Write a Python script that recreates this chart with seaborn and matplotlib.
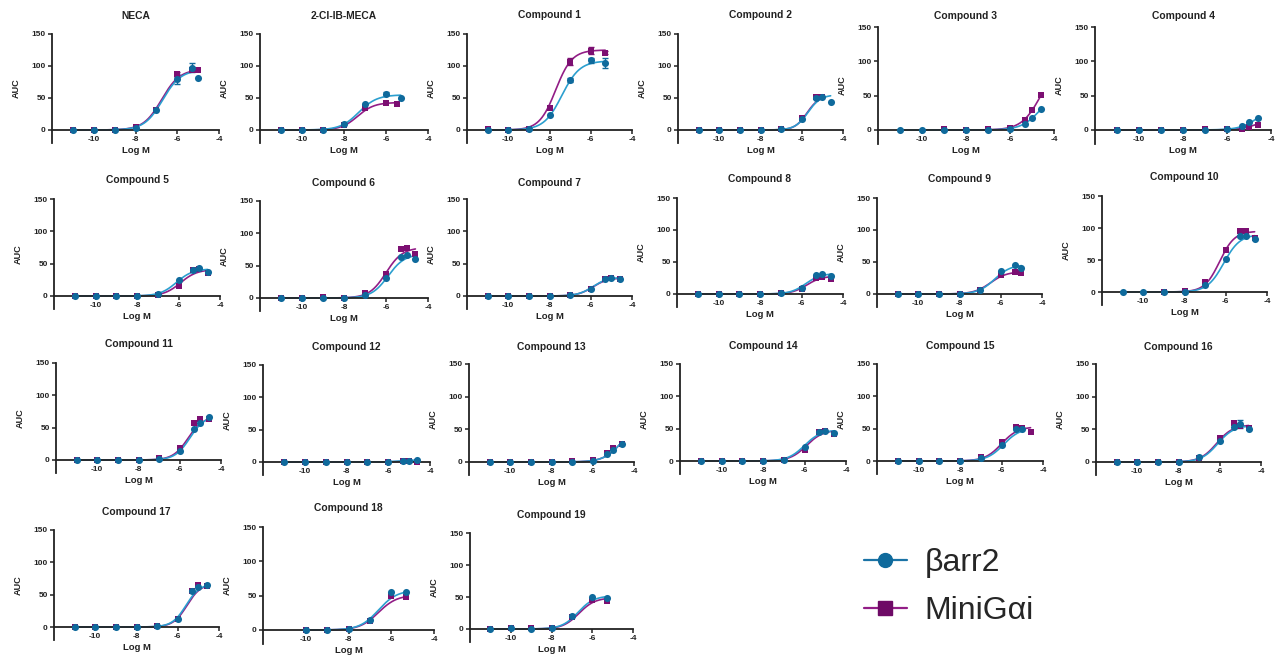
import numpy as np
import pandas as pd
import matplotlib
matplotlib.use("Agg")
import matplotlib.pyplot as plt
from matplotlib.lines import Line2D
import seaborn as sns

# ---------------------------------------------------------------- data
compounds = ["NECA", "2-Cl-IB-MECA"] + [f"Compound {i}" for i in range(1, 20)]

X9 = [-11, -10, -9, -8, -7, -6, -5.3, -5, -4.6]
X8 = [-11, -10, -9, -8, -7, -6, -5.3, -5]
X7 = [-11, -10, -9, -8, -7, -6, -5.3]
X_MECA = [-11, -10, -9, -8, -7, -6, -5.5, -5.3]
X18 = [-10, -9, -8, -7, -6, -5.3]

log_conc = [X8, X_MECA, X7, X9, X9, X9, X9, X9, X9, X9, X8,
            X9, X9, X9, X9, X9, X9, X9, X9, X18, X7]

nan = np.nan
barr_auc = [
    [0, 0, 0, 3, 31, 80, 97, 82],
    [0, 0, 0, 9, 40, 57, nan, 50],
    [0, 0, 2, 23, 78, 109, 105],
    [0, 0, 0, 0, 1, 17, 50, 51, 44],
    [0, 0, 0, 0, 0, 1, 9, 18, 30],
    [0, 0, 0, 0, 0, 1, 6, 11, 18],
    [0, 0, 0, 0, 3, 24, 40, 43, 37],
    [0, 0, 0, 0, 4, 31, 63, 67, 61],
    [0, 0, 0, 0, 1, 11, 27, 28, 27],
    [0, 0, 0, 0, 1, 10, 29, 31, 28],
    [0, 0, 0, 0, 7, 36, 46, 40],
    [0, 0, 0, 0, 11, 52, 87, 87, 83],
    [0, 0, 0, 0, 1, 14, 48, 57, 66],
    [0, 0, 0, 0, 0, 0, 2, 2, 3],
    [0, 0, 0, 0, 0, 2, 13, 19, 28],
    [0, 0, 0, 0, 2, 22, 45, 47, 44],
    [0, 0, 0, 0, 4, 24, 49, 50, nan],
    [0, 0, 0, 0, 7, 32, 53, 58, 50],
    [0, 0, 0, 0, 1, 12, 55, 62, 65],
    [0, 0, 2, 15, 55, 55],
    [0, 1, 0, 2, 20, 50, 48],
]
mini_auc = [
    [0, 0, 0, 4, 31, 87, 94, 94],
    [0, 0, 0, 8, 35, 42, 41, nan],
    [1, 0, 2, 35, 107, 124, 121],
    [0, 0, 0, 0, 1, 19, 51, 51, nan],
    [nan, nan, 1, 0, 1, 3, 15, 29, 51],
    [0, 0, 0, 0, 1, 1, 2, 5, 8],
    [0, 0, 0, 0, 2, 16, 40, 41, 35],
    [0, 0, 1, 0, 7, 37, 75, 77, 68],
    [0, 0, 0, 0, 1, 11, 26, 28, 26],
    [0, 0, 0, 0, 1, 8, 25, 27, 24],
    [0, 0, 0, 0, 6, 30, 35, 33],
    [nan, nan, 0, 1, 15, 65, 95, 95, 85],
    [0, 0, 0, 0, 3, 18, 57, 64, 63],
    [0, 0, 0, 0, 0, 0, 1, 2, 0],
    [0, 0, 0, 0, 1, 3, 14, 21, 28],
    [0, 0, 0, 0, 1, 17, 45, 46, 41],
    [0, 0, 0, 0, 6, 29, 52, 51, 45],
    [0, 0, 0, 0, 6, 36, 59, 55, 52],
    [0, 0, 0, 0, 1, 13, 55, 65, 63],
    [0, 0, 1, 13, 50, 48],
    [0, 1, 2, 2, 18, 45, 44],
]

# standard errors (only where visible): {compound: {logM: sem}}
barr_sem = {"NECA": {-6: 8, -5.3: 7}, "Compound 1": {-7: 3, -6: 4, -5.3: 8},
            "Compound 16": {-5: 6}, "2-Cl-IB-MECA": {-6: 3}}
mini_sem = {"NECA": {-6: 4}, "Compound 1": {-7: 5, -6: 6, -5.3: 3}}

# four-parameter logistic fits: top, logEC50, Hill slope
barr_top = [94, 55, 108, 55, 60, 40, 42, 68, 29, 32, 46, 90, 69, 3, 60, 48, 51, 56, 67, 58, 52]
barr_logec50 = [-6.7, -7.3, -7.4, -5.7, -4.6, -4.5, -6.1, -5.9, -5.9, -5.8, -6.3, -6.1,
                -5.5, -5.5, -4.6, -6.0, -5.9, -6.1, -5.6, -6.6, -6.7]
barr_hill = [1, 1, 1, 1.4, 1, 1, 1.1, 1.1, 1.2, 1.2, 1.1, 1.1, 1.2, 1.5, 1, 1.1, 1.1, 1.1, 1.3, 1, 1.1]
mini_top = [95, 43, 125, 53, 100, 20, 41, 78, 28, 28, 35, 95, 67, 1.5, 60, 48, 53, 57, 67, 51, 49]
mini_logec50 = [-6.75, -7.35, -7.7, -5.75, -4.6, -4.5, -5.9, -6.0, -5.9, -5.75, -6.5, -6.3,
                -5.6, -5.5, -4.6, -5.9, -6.0, -6.15, -5.55, -6.6, -6.65]
mini_hill = [1, 1.1, 1.1, 1.5, 1, 1, 1.1, 1.1, 1.2, 1.2, 1.1, 1.2, 1.2, 1.5, 1, 1.1, 1.1, 1.1, 1.3, 1, 1.1]

series_names = ["βarr2", "MiniGαi"]

# ---------------------------------------------------------------- layout (pixels)
# left edge (x=-12), y of 150, y of 0, right edge (x=-4), title centre y
panel_px = [
    (52, 34, 130, 219, 16), (260, 34, 130, 428, 16), (467, 34, 130, 632, 15),
    (678, 34, 130, 843, 15), (878, 27, 130, 1054, 16), (1095, 27, 130, 1271, 16),
    (54, 199, 296, 220, 180), (260, 201, 298, 428, 183), (467, 199, 296, 632, 183),
    (677, 198, 294, 843, 179), (877, 198, 294, 1042, 179), (1102, 196, 292, 1267, 177),
    (56, 363, 460, 221, 344), (263, 365, 462, 430, 347), (469, 364, 462, 634, 347),
    (680, 364, 461, 846, 346), (877, 364, 461, 1043, 346), (1096, 364, 462, 1261, 347),
    (54, 530, 627, 219, 512), (263, 527, 630, 434, 508), (470, 533, 629, 633, 515),
]

W, H = 1285, 660
BARR_MARK, BARR_LINE = "#0f6a9c", "#2b9fcf"
MINI_MARK, MINI_LINE = "#7c0f72", "#921d86"
INK = "#222222"

sns.set_theme(style="ticks")
plt.rcParams["font.family"] = ["Liberation Sans", "DejaVu Sans"]
plt.rcParams["font.weight"] = "bold"

fig = plt.figure(figsize=(W / 100, H / 100), dpi=100)


def logistic(x, top, logec50, hill):
    return top / (1 + 10 ** ((logec50 - x) * hill))


for i, name in enumerate(compounds):
    left, ytop, yzero, right, ytitle = panel_px[i]
    pix_per_unit = (yzero - ytop) / 150.0
    ybot = yzero + 20 * pix_per_unit
    ax = fig.add_axes([left / W, 1 - ybot / H, (right - left) / W, (ybot - ytop) / H])

    x = np.array(log_conc[i], dtype=float)
    pts = pd.DataFrame({
        "logM": np.concatenate([x, x]),
        "AUC": np.concatenate([np.array(barr_auc[i], float), np.array(mini_auc[i], float)]),
        "series": [series_names[0]] * len(x) + [series_names[1]] * len(x),
    }).dropna()

    curves = []
    for s, top, ec, hl in [(series_names[1], mini_top[i], mini_logec50[i], mini_hill[i]),
                           (series_names[0], barr_top[i], barr_logec50[i], barr_hill[i])]:
        sub = pts[pts.series == s]
        xs = np.linspace(sub.logM.min(), sub.logM.max(), 200)
        curves.append(pd.DataFrame({"logM": xs, "AUC": logistic(xs, top, ec, hl), "series": s}))
    curves = pd.concat(curves)

    sns.lineplot(data=curves, x="logM", y="AUC", hue="series",
                 hue_order=series_names[::-1],
                 palette={series_names[0]: BARR_LINE, series_names[1]: MINI_LINE},
                 lw=1.2, legend=False, ax=ax, estimator=None, sort=False)

    # error bars
    for sem, s, col in [(mini_sem, series_names[1], MINI_MARK), (barr_sem, series_names[0], BARR_MARK)]:
        if name in sem:
            sub = pts[pts.series == s].set_index("logM")
            xe = list(sem[name].keys())
            ye = [sub.loc[v, "AUC"] for v in xe]
            ax.errorbar(xe, ye, yerr=list(sem[name].values()), fmt="none",
                        ecolor=col, elinewidth=1.0, capsize=2, capthick=1.0, zorder=3)

    sns.scatterplot(data=pts[pts.series == series_names[1]], x="logM", y="AUC",
                    color=MINI_MARK, marker="s", s=24, edgecolor=MINI_MARK,
                    linewidth=0, ax=ax, zorder=4)
    sns.scatterplot(data=pts[pts.series == series_names[0]], x="logM", y="AUC",
                    color=BARR_MARK, marker="o", s=26, edgecolor=BARR_MARK,
                    linewidth=0, ax=ax, zorder=5)

    ax.set_xlim(-12, -4)
    ax.set_ylim(-20, 150)
    ax.spines["bottom"].set_position(("data", 0))
    ax.spines["top"].set_visible(False)
    ax.spines["right"].set_visible(False)
    for sp in ("left", "bottom"):
        ax.spines[sp].set_linewidth(1.3)
        ax.spines[sp].set_color(INK)
    ax.set_xticks([-10, -8, -6, -4])
    ax.set_xticklabels(["-10", "-8", "-6", "-4"])
    ax.set_yticks([0, 50, 100, 150])
    ax.tick_params(axis="both", length=3, width=1.1, labelsize=6, pad=1.5,
                   colors=INK, labelcolor=INK)
    for lab in ax.get_xticklabels() + ax.get_yticklabels():
        lab.set_fontweight("bold")
    ax.set_xlabel("Log M", fontsize=6.8, fontweight="bold", labelpad=2, color=INK)
    ax.set_ylabel("AUC", fontsize=6.6, fontweight="bold", labelpad=8, color=INK)
    ax.set_title(name, fontsize=7.4, fontweight="bold", color=INK,
                 y=(ybot - ytitle) / (ybot - ytop), pad=0, va="center")
    ax.patch.set_alpha(0)

handles = [
    Line2D([], [], color="#1a73a6", marker="o", markersize=10, lw=1.6,
           markerfacecolor=BARR_MARK, markeredgecolor=BARR_MARK),
    Line2D([], [], color=MINI_LINE, marker="s", markersize=10, lw=1.6,
           markerfacecolor="#6e0a66", markeredgecolor="#6e0a66"),
]
leg = fig.legend(handles, series_names, loc="center left",
                 bbox_to_anchor=(835 / W, 1 - 587 / H), frameon=False,
                 prop={"family": ["Liberation Sans", "DejaVu Sans"], "size": 23, "weight": "normal"},
                 handlelength=1.35, handletextpad=0.55, labelspacing=0.58)

fig.savefig("out.png", dpi=100)
